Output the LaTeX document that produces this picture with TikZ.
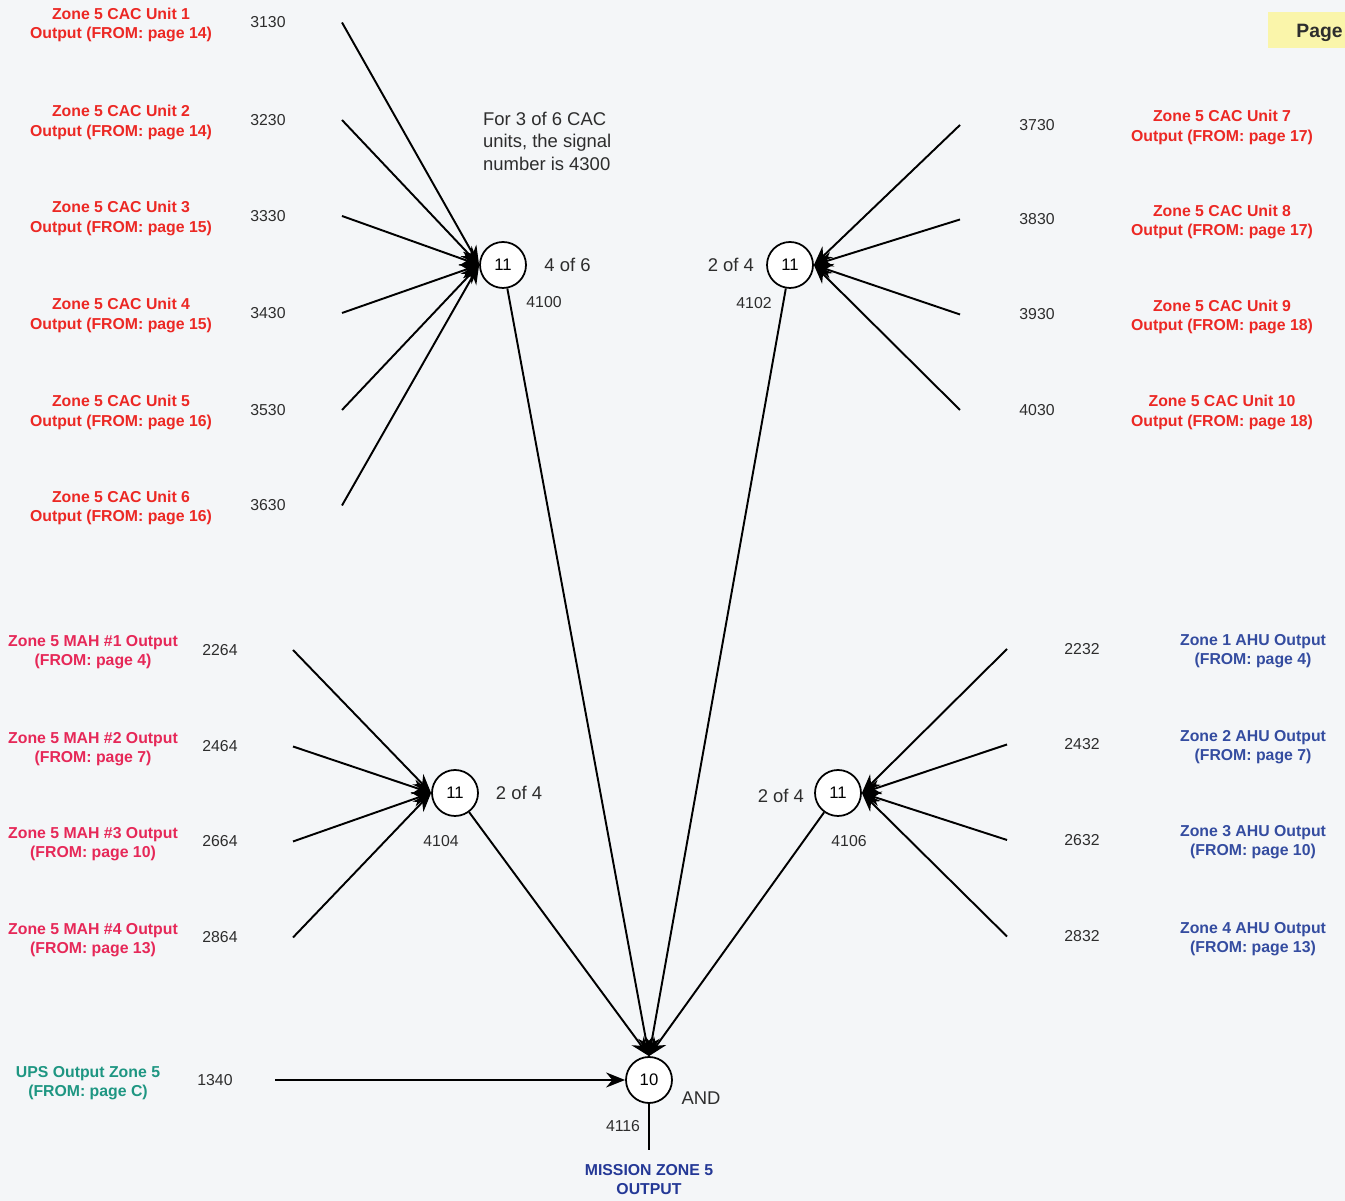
\documentclass[tikz,border=0pt]{standalone}
\usepackage{fontspec}
\setmainfont{Liberation Sans}
\usepackage{xcolor}
\usepackage{tikz}
\usetikzlibrary{positioning, arrows.meta}

\definecolor{bgpaper}{RGB}{244,246,248}
\definecolor{pageyellow}{RGB}{250,245,170}
\definecolor{cacred}{RGB}{236,40,36}
\definecolor{mahpink}{RGB}{230,40,88}
\definecolor{ahublue}{RGB}{52,76,160}
\definecolor{upsteal}{RGB}{30,150,130}
\definecolor{missionblue}{RGB}{36,56,150}
\definecolor{numgray}{RGB}{45,45,45}

\begin{document}
\begin{tikzpicture}[
    gate/.style={circle, draw, line width=1pt, fill=white, minimum size=0.92cm, inner sep=0pt, font=\fontsize{9.5}{11}\selectfont},
    signal/.style={font=\fontsize{9}{11}\selectfont, text=numgray, inner sep=1pt},
    source/.style={font=\fontsize{9}{11}\selectfont\bfseries, align=center, inner sep=1pt, yshift=-1.4pt},
    note/.style={font=\fontsize{10.5}{12.8}\selectfont, text=numgray, inner sep=1pt},
    arrow/.style={-{Stealth[length=0.38cm, width=0.3cm]}, line width=1.1pt},
    wire/.style={line width=1.1pt}
]

% Background
\fill[bgpaper] (0,0) rectangle (26.9,24.02);
\useasboundingbox (0,0) rectangle (26.9,24.02);

% Page tab
\fill[pageyellow] (25.36,23.06) rectangle (27.2,23.78);
\node[anchor=west, font=\fontsize{11}{13}\selectfont\bfseries, text=numgray, inner sep=0pt] (pg) at (25.92,23.36) {Page};

% Gates
\node[gate] (g4100) at (10.06,18.72) {11};
\node[gate] (g4102) at (15.80,18.72) {11};
\node[gate] (g4104) at (9.10,8.16) {11};
\node[gate] (g4106) at (16.76,8.16) {11};
\node[gate] (g4116) at (12.98,2.42) {10};

% Zone 5 CAC units 1-6
\foreach \n/\y/\pg in {1/23.57/14, 2/21.62/14, 3/19.70/15, 4/17.76/15, 5/15.82/16, 6/13.91/16}{
    \node[source, text=cacred] (cac\n) at (2.42,\y) {Zone 5 CAC Unit \n\\Output (FROM: page \pg)};
    \node[signal] (s3\n30) at (5.36,\y) {3\n30};
    \coordinate (in\n) at (6.84,\y);
    \draw[arrow] (in\n) -- (g4100.west);
}

% Zone 5 CAC units 7-10
\foreach \n/\y/\pg/\num in {7/21.52/17/3730, 8/19.63/17/3830, 9/17.73/18/3930, 10/15.82/18/4030}{
    \node[source, text=cacred] (cac\n) at (24.44,\y) {Zone 5 CAC Unit \n\\Output (FROM: page \pg)};
    \node[signal] (s\num) at (20.74,\y) {\num};
    \coordinate (in\n) at (19.20,\y);
    \draw[arrow] (in\n) -- (g4102.east);
}

% Zone 5 MAH outputs
\foreach \n/\y/\pg/\num in {1/11.02/4/2264, 2/9.09/7/2464, 3/7.19/10/2664, 4/5.27/13/2864}{
    \node[source, text=mahpink] (mah\n) at (1.86,\y) {Zone 5 MAH \#\n{} Output\\(FROM: page \pg)};
    \node[signal] (s\num) at (4.40,\y) {\num};
    \coordinate (mahin\n) at (5.86,\y);
    \draw[arrow] (mahin\n) -- (g4104.west);
}

% Zone AHU outputs
\foreach \n/\y/\pg/\num in {1/11.04/4/2232, 2/9.13/7/2432, 3/7.22/10/2632, 4/5.29/13/2832}{
    \node[source, text=ahublue] (ahu\n) at (25.06,\y) {Zone \n{} AHU Output\\(FROM: page \pg)};
    \node[signal] (s\num) at (21.64,\y) {\num};
    \coordinate (ahuin\n) at (20.14,\y);
    \draw[arrow] (ahuin\n) -- (g4106.east);
}

% UPS output
\node[source, text=upsteal] (ups) at (1.76,2.41) {UPS Output Zone 5\\(FROM: page C)};
\node[signal] (s1340) at (4.30,2.42) {1340};
\coordinate (upsin) at (5.50,2.42);
\draw[arrow] (upsin) -- (g4116.west);

% Gates into the AND gate
\foreach \g in {g4100, g4102, g4104, g4106}
    \draw[arrow] (\g) -- (g4116.north);

% Mission output
\coordinate (out) at (12.98,1.02);
\draw[wire] (g4116) -- (out);
\node[source, text=missionblue, below=0.2cm of out] (mission) {MISSION ZONE 5\\OUTPUT};

% Gate labels
\node[note, right=0.31cm of g4100] (v4100) {4 of 6};
\node[note, left=0.2cm of g4102] (v4102) {2 of 4};
\node[note, right=0.3cm of g4104] (v4104) {2 of 4};
\node[note, left=0.16cm of g4106, yshift=-0.05cm] (v4106) {2 of 4};
\node[note] (vand) at (14.02,2.06) {AND};
\node[signal] (n4100) at (10.88,17.98) {4100};
\node[signal] (n4102) at (15.08,17.96) {4102};
\node[signal] (n4104) at (8.82,7.20) {4104};
\node[signal] (n4106) at (16.98,7.20) {4106};
\node[signal] (n4116) at (12.46,1.50) {4116};

% Note on the CAC units
\node[note, anchor=west, align=left] (cacnote) at (9.62,21.20) {For 3 of 6 CAC\\units, the signal\\number is 4300};

\end{tikzpicture}
\end{document}
